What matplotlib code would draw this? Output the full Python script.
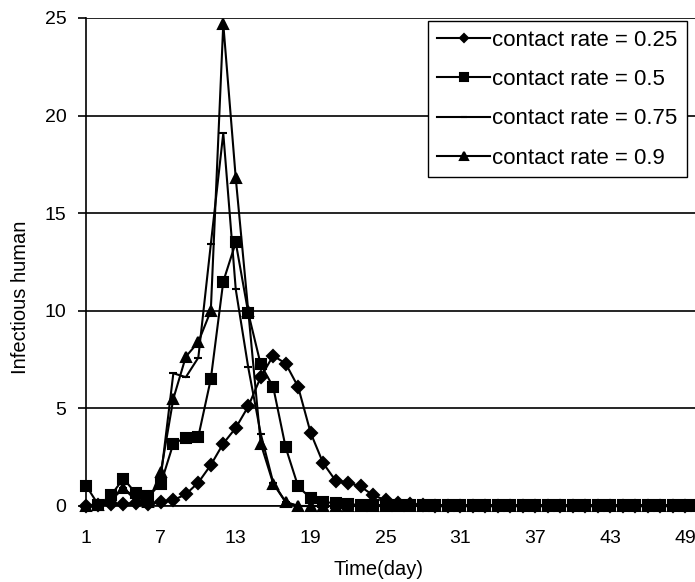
import matplotlib
matplotlib.use('Agg')
import matplotlib.pyplot as plt

plt.rcParams['font.family'] = ['Liberation Sans', 'DejaVu Sans']

# days on the time axis
days = list(range(1, 51))
x_ticks = [1, 7, 13, 19, 25, 31, 37, 43, 49]
y_ticks = [0, 5, 10, 15, 20, 25]

labels = ['contact rate = 0.25', 'contact rate = 0.5',
          'contact rate = 0.75', 'contact rate = 0.9']

# infectious humans per day
rate_025 = [0, 0.05, 0.1, 0.1, 0.15, 0.1, 0.2, 0.3, 0.6, 1.2,
            2.1, 3.2, 4.0, 5.1, 6.6, 7.7, 7.3, 6.1, 3.75, 2.2,
            1.3, 1.2, 1.0, 0.55, 0.3, 0.15, 0.1, 0.05, 0, 0,
            0, 0, 0, 0, 0, 0, 0, 0, 0, 0,
            0, 0, 0, 0, 0, 0, 0, 0, 0, 0]
rate_05 = [1.05, 0.05, 0.55, 1.4, 0.65, 0.5, 1.15, 3.2, 3.5, 3.55,
           6.5, 11.5, 13.5, 9.9, 7.25, 6.1, 3.0, 1.0, 0.4, 0.2,
           0.15, 0.1, 0.05, 0.05, 0.05, 0.05, 0.05, 0.05, 0.05, 0.05,
           0.05, 0.05, 0.05, 0.05, 0.05, 0.05, 0.05, 0.05, 0.05, 0.05,
           0.05, 0.05, 0.05, 0.05, 0.05, 0.05, 0.05, 0.05, 0.05, 0.05]
rate_075 = [0, 0.05, 0.3, 0.9, 0.4, 0.3, 1.5, 6.8, 6.6, 7.6,
            13.4, 19.1, 11.1, 7.1, 3.7, 1.2, 0.2, 0, 0, 0,
            0, 0, 0, 0, 0, 0, 0, 0, 0, 0,
            0, 0, 0, 0, 0, 0, 0, 0, 0, 0,
            0, 0, 0, 0, 0, 0, 0, 0, 0, 0]
rate_09 = [0, 0.05, 0.4, 0.9, 0.3, 0.2, 1.75, 5.5, 7.65, 8.4,
           10.0, 24.7, 16.8, 10.0, 3.2, 1.15, 0.2, 0, 0, 0,
           0, 0, 0, 0, 0, 0, 0, 0, 0, 0,
           0, 0, 0, 0, 0, 0, 0, 0, 0, 0,
           0, 0, 0, 0, 0, 0, 0, 0, 0, 0]

fig = plt.figure(figsize=(6.95, 5.82), dpi=100)
ax = fig.add_axes([86 / 695, 1 - 506 / 582, 609 / 695, 488 / 582])

styles = [('D', 6.5, 1.5), ('s', 7.5, 1.5), ('_', 6, 1.5), ('^', 7.5, 1.5)]
for vals, (mk, ms, mew), lab in zip([rate_025, rate_05, rate_075, rate_09], styles, labels):
    ax.plot(days, vals, color='black', lw=1.5, marker=mk, ms=ms, mew=mew,
            mfc='black', mec='black', label=lab, clip_on=False)

ax.set_xlim(1, 49.8)
ax.set_ylim(0, 25)
ax.set_xticks(x_ticks)
ax.set_yticks(y_ticks)
ax.yaxis.grid(True, color='black', lw=1.2)
ax.set_axisbelow(True)

for side in ['top', 'right']:
    ax.spines[side].set_visible(False)
for side in ['left', 'bottom']:
    ax.spines[side].set_linewidth(1.2)
    ax.spines[side].set_color('black')

ax.tick_params(axis='x', length=0, pad=17, labelsize=14)
ax.tick_params(axis='y', length=6, width=1.2, pad=8, labelsize=14, direction='out')

ax.set_xlabel('Time(day)', fontsize=14.5)
ax.xaxis.set_label_coords(0.48, -0.131)
ax.set_ylabel('Infectious human', fontsize=14.5)
ax.yaxis.set_label_coords(-0.107, 0.428)
ax.yaxis.label.set_va('center')
ax.xaxis.label.set_va('center')

leg = ax.legend(loc='upper left', bbox_to_anchor=(428 / 695, 1 - 21 / 582),
                bbox_transform=fig.transFigure, fontsize=16, frameon=True,
                fancybox=False, edgecolor='black', framealpha=1,
                handlelength=2.4, handletextpad=0.1, labelspacing=0.82,
                borderpad=0.4, borderaxespad=0, markerscale=0.7)
leg.get_frame().set_linewidth(1.0)

fig.savefig('out.png', dpi=100)
